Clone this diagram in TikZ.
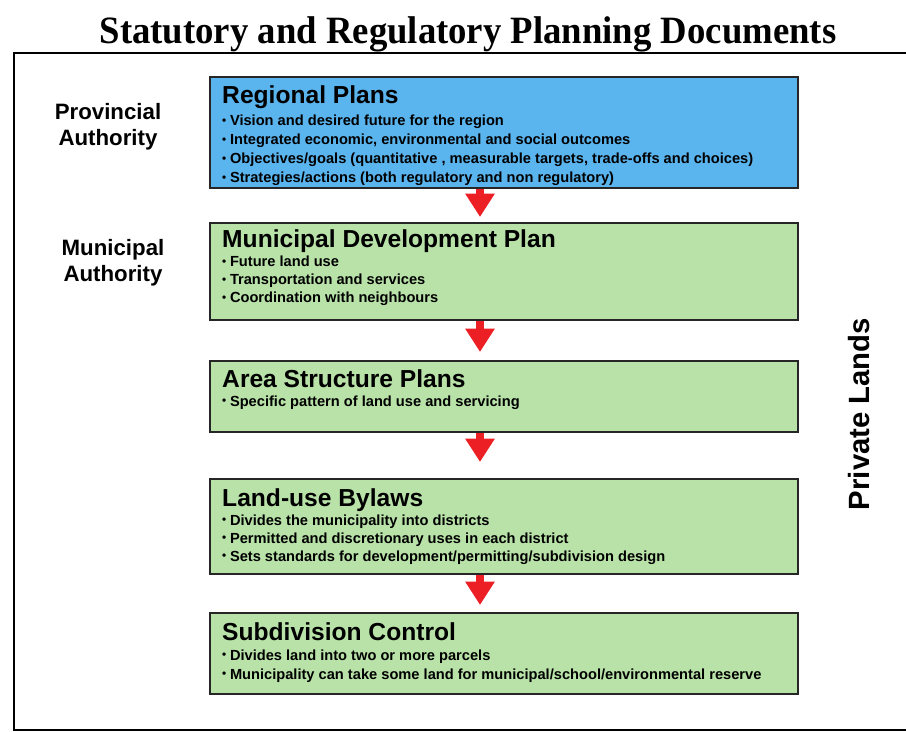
\documentclass[tikz,border=0pt]{standalone}
\usepackage{fontspec}
\setmainfont{Liberation Serif}
\setsansfont{Liberation Sans}
\newfontfamily\titlefont[FakeStretch=0.95]{Liberation Serif}
\usepackage{tikz}
\usetikzlibrary{calc, positioning, arrows.meta}

\definecolor{rpblue}{RGB}{90,180,238}
\definecolor{mgreen}{RGB}{184,226,168}
\definecolor{arred}{RGB}{236,32,36}

\tikzstyle{doc}=[draw=black!85, line width=1.6pt, shape=rectangle, anchor=north west, inner sep=0pt, minimum width=176.4mm]
\tikzstyle{head}=[anchor=base west, inner sep=0pt, font=\sffamily\bfseries\fontsize{21}{24}\selectfont]
\tikzstyle{item}=[anchor=base west, inner sep=0pt, font=\sffamily\bfseries\fontsize{12.5}{15}\selectfont]
\tikzstyle{auth}=[align=center, inner sep=0pt, font=\sffamily\bfseries\fontsize{19}{22}\selectfont]
\tikzstyle{flow}=[arred, line width=7pt, -{Triangle[length=20pt, width=24pt]}]
\newcommand{\bul}{\raisebox{0.2ex}{\scalebox{0.8}{\textbullet}}\hspace{0.25em}}

\begin{document}
\begin{tikzpicture}[x=0.3mm, y=-0.3mm]
\useasboundingbox (0,0) rectangle (906,732);

\node[font=\titlefont\bfseries\fontsize{33}{36}\selectfont, anchor=base, inner sep=0pt] (title) at (468,44) {Statutory and Regulatory Planning Documents};
\draw[line width=1.6pt] (906,53) -- (14,53) -- (14,730) -- (906,730);

% the five documents
\node[doc, fill=rpblue, minimum height=33.3mm] (reg) at (209,76) {};
\node[doc, fill=mgreen, minimum height=29.1mm] (mdp) at (209,222) {};
\node[doc, fill=mgreen, minimum height=21.3mm] (asp) at (209,360) {};
\node[doc, fill=mgreen, minimum height=28.5mm] (lub) at (209,478) {};
\node[doc, fill=mgreen, minimum height=24.3mm] (sdc) at (209,612) {};

\node[head] (reg-h) at ($(reg.north west)+(13,28)$) {Regional Plans};
\node[head] (mdp-h) at ($(mdp.north west)+(13,26)$) {Municipal Development Plan};
\node[head] (asp-h) at ($(asp.north west)+(13,27)$) {Area Structure Plans};
\node[head] (lub-h) at ($(lub.north west)+(13,28)$) {Land-use Bylaws};
\node[head] (sdc-h) at ($(sdc.north west)+(13,28)$) {Subdivision Control};

\foreach \t [count=\i] in {Vision and desired future for the region, {Integrated economic, environmental and social outcomes}, {Objectives/goals (quantitative , measurable targets, trade-offs and choices)}, Strategies/actions (both regulatory and non regulatory)}
  \node[item] (reg-\i) at ($(reg-h.base west)+(0,3+19*\i)$) {\bul\t};
\foreach \t [count=\i] in {Future land use, Transportation and services, Coordination with neighbours}
  \node[item] (mdp-\i) at ($(mdp-h.base west)+(0,1+18*\i)$) {\bul\t};
\foreach \t [count=\i] in {Specific pattern of land use and servicing}
  \node[item] (asp-\i) at ($(asp-h.base west)+(0,1+18*\i)$) {\bul\t};
\foreach \t [count=\i] in {Divides the municipality into districts, Permitted and discretionary uses in each district, Sets standards for development/permitting/subdivision design}
  \node[item] (lub-\i) at ($(lub-h.base west)+(0,1+18*\i)$) {\bul\t};
\foreach \t [count=\i] in {Divides land into two or more parcels, Municipality can take some land for municipal/school/environmental reserve}
  \node[item] (sdc-\i) at ($(sdc-h.base west)+(0,1+19*\i)$) {\bul\t};

% arrows between levels
\coordinate (ax) at (480,0);
\draw[flow] (reg.south -| ax) -- ($(mdp.north -| ax)+(0,-5)$);
\draw[flow] (mdp.south -| ax) -- ($(asp.north -| ax)+(0,-8)$);
\draw[flow] (asp.south -| ax) -- ($(lub.north -| ax)+(0,-16)$);
\draw[flow] (lub.south -| ax) -- ($(sdc.north -| ax)+(0,-7)$);

\node[auth] (prov) at (108,127) {Provincial\\Authority};
\node[auth] (muni) at (113,263) {Municipal\\Authority};
\node[font=\sffamily\bfseries\fontsize{25}{28}\selectfont, rotate=90, inner sep=0pt] (priv) at (859,414) {Private Lands};
\end{tikzpicture}
\end{document}
